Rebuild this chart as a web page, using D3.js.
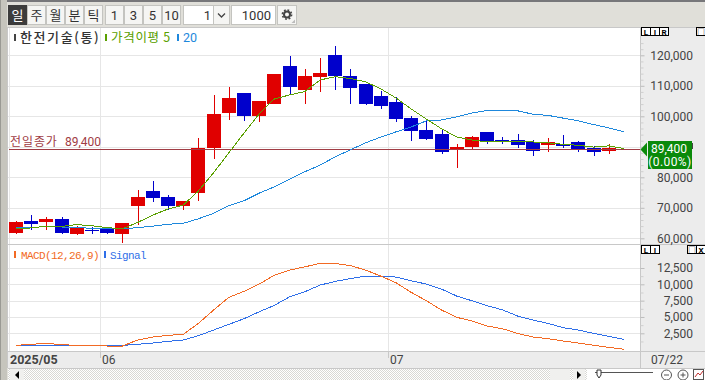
<!DOCTYPE html>
<html>
<head>
<meta charset="utf-8">
<script src="https://cdn.jsdelivr.net/npm/d3@7"></script>
<style>
  html, body { margin: 0; padding: 0; background: #e0dfd9; overflow: hidden; }
  svg { display: block; }
  text { font-family: Roboto, "Noto Sans CJK KR", sans-serif; }
  .kr { font-family: "Noto Sans CJK KR", sans-serif; }
  .mono { font-family: "Liberation Mono", monospace; letter-spacing: -0.6px; }
  .crisp { shape-rendering: crispEdges; }
</style>
</head>
<body>
<svg id="chart" width="705" height="380"></svg>
<script>
// trading days shown on the chart
const dates = ['05/23','05/26','05/27','05/28','05/29','05/30','06/02','06/04','06/05','06/09','06/10','06/11','06/12','06/13',
  '06/16','06/17','06/18','06/19','06/20','06/23','06/24','06/25','06/26','06/27','06/30','07/01','07/02','07/03','07/04',
  '07/07','07/08','07/09','07/10','07/11','07/14','07/15','07/16','07/17','07/18','07/21','07/22'];
const opens = [61700,65700,65300,66300,61400,62700,63100,61400,70600,75500,73500,70600,74900,89600,101100,107700,100100,104100,
  116500,108600,112900,120100,113200,110600,106700,104700,99500,95500,94200,89300,89900,94900,92200,92200,91600,90600,90900,91600,89600,88600,89400];
const closes = [65300,64700,66300,61700,63400,62400,61700,65000,73500,73200,70600,72200,89600,100800,106000,100100,105000,113900,
  109600,113200,114200,113200,109300,104100,103400,99100,95200,92600,88300,89900,93200,91900,91900,90600,88600,91600,90300,89300,88300,89600,89400];
const highs = [65700,67600,67000,67000,64000,63700,63700,65000,75800,78800,74200,72200,92900,107000,109600,107700,105000,113900,
  119800,115500,119100,123100,115500,110600,108300,106300,100100,98500,95500,90900,93600,94900,93200,94200,92200,92900,93900,91900,90300,90900,89400];
const lows = [61400,62700,62700,61400,61100,61400,61400,58500,64400,71900,69300,69300,72200,86000,98800,98500,98100,104100,
  107000,104100,108000,108600,104100,103700,102400,98100,91900,92200,87700,83100,89300,90900,90900,89600,87000,88300,89600,88300,87000,87700,89400];
const ma5 = [63100,63400,64000,63900,64500,64100,63500,63100,65200,67600,69600,70900,75500,81500,88000,94500,100800,105700,
  107000,108100,111900,113000,112400,111300,109000,106000,102400,99100,95900,93200,92200,91600,91600,91900,91600,91300,90800,90500,89900,90300,89400];
const ma20 = [63500,63600,63800,63700,63500,63300,63200,63100,63500,64000,64600,64900,66400,68200,70700,72300,74800,76900,
  79400,81800,84000,86700,89000,91300,93200,94900,96500,98500,98800,99800,101100,101900,101900,101800,100700,100300,99400,98500,97300,96200,94900];
const macd = [660,810,960,750,660,660,550,550,1470,1930,2190,2340,4020,6060,8000,8920,10040,11410,12180,12680,13200,13200,12870,
  12180,11260,10240,8770,7480,6060,4940,4380,3610,3200,2490,1930,1670,1320,1010,660,350,50];
const signal = [660,660,680,680,660,660,650,640,810,1010,1270,1470,2130,3000,3870,4730,5800,6780,8090,8860,9880,10450,10880,
  11260,11260,11110,10540,10040,9270,8200,7480,6720,6100,5140,4530,4020,3350,3000,2490,2030,1580];

const priceTicks = [60000,70000,80000,90000,100000,110000,120000];
const priceMinor = d3.range(58000, 126000, 2000);
const macdTicks = [2500,5000,7500,10000,12500];
const macdMinor = [1250,3750,6250,8750,11250];
const prevClose = 89400;
const periodButtons = ['일','주','월','분','틱'];
const stepButtons = ['1','3','5','10'];

const red = '#e00000', blue = '#0000cc', gridColor = '#e6e6e6', axisBg = '#ececec', lineGray = '#c8c8c8';
const svg = d3.select('#chart');

const plotLeft = 8, plotRight = 640, priceTop = 28, priceBottom = 244, macdBottom = 351;

const x = d3.scalePoint().domain(dates).range([16, 624]);
const yPrice = d3.scaleLinear().domain([60000, 120000]).range([238.3, 55.3]);
const yMacd = d3.scaleLinear().domain([2500, 12500]).range([333.3, 268]);

// frame
svg.append('rect').attr('width', 705).attr('height', 380).attr('fill', '#e0dfd9');
svg.append('rect').attr('width', 705).attr('height', 2).attr('fill', '#77777a');
svg.append('rect').attr('x', 0).attr('y', 0).attr('width', 7).attr('height', 380).attr('fill', '#c6c5bd');
svg.append('rect').attr('x', 0).attr('y', 0).attr('width', 1).attr('height', 380).attr('fill', '#9a9a94');
svg.append('rect').attr('x', 7).attr('y', 27).attr('width', 698).attr('height', 341).attr('fill', axisBg);
svg.append('rect').attr('x', plotLeft).attr('y', priceTop).attr('width', plotRight - plotLeft)
  .attr('height', macdBottom - priceTop).attr('fill', '#fff');

// toolbar
function button(bx, bw, label, selected, cls) {
  svg.append('rect').attr('class', 'crisp').attr('x', bx + 0.5).attr('y', 5.5).attr('width', bw - 1).attr('height', 19)
    .attr('fill', selected ? '#3c3c3c' : '#f5f5f3').attr('stroke', selected ? '#3c3c3c' : '#c4c4c0');
  svg.append('text').attr('class', cls).attr('x', bx + bw / 2).attr('y', 20).attr('text-anchor', 'middle')
    .attr('font-size', 13).attr('fill', selected ? '#fff' : '#333').text(label);
}
periodButtons.forEach((d, i) => button(8 + i * 19, 19, d, i === 0, 'kr'));
stepButtons.forEach((d, i) => button(105 + i * 19, 19, d, false, ''));

svg.append('rect').attr('class', 'crisp').attr('x', 183.5).attr('y', 5.5).attr('width', 46).attr('height', 19)
  .attr('fill', '#fff').attr('stroke', '#c4c4c0');
svg.append('rect').attr('class', 'crisp').attr('x', 213.5).attr('y', 5.5).attr('width', 16).attr('height', 19)
  .attr('fill', '#f5f5f3').attr('stroke', '#c4c4c0');
svg.append('path').attr('d', 'M218 13.5 L221.5 17 L225 13.5').attr('fill', 'none').attr('stroke', '#444').attr('stroke-width', 1.3);
svg.append('text').attr('x', 211).attr('y', 20).attr('text-anchor', 'end').attr('font-size', 13).attr('fill', '#333').text('1');
svg.append('rect').attr('class', 'crisp').attr('x', 231.5).attr('y', 5.5).attr('width', 44).attr('height', 19)
  .attr('fill', '#fff').attr('stroke', '#c4c4c0');
svg.append('text').attr('x', 271).attr('y', 20).attr('text-anchor', 'end').attr('font-size', 13).attr('fill', '#333').text('1000');
svg.append('rect').attr('class', 'crisp').attr('x', 277.5).attr('y', 5.5).attr('width', 19).attr('height', 19)
  .attr('fill', '#f5f5f3').attr('stroke', '#c4c4c0');
// gear icon
svg.append('circle').attr('cx', 287).attr('cy', 14.5).attr('r', 3).attr('fill', 'none').attr('stroke', '#444').attr('stroke-width', 2);
svg.append('circle').attr('cx', 287).attr('cy', 14.5).attr('r', 4.6).attr('fill', 'none').attr('stroke', '#444').attr('stroke-width', 1.6)
  .attr('stroke-dasharray', '1.8 1.8');
svg.append('path').attr('d', 'M295 23 V19.5 L291.5 23 Z').attr('fill', '#bbb');

// grid
const grid = svg.append('g').attr('class', 'crisp').attr('stroke', gridColor);
grid.selectAll('.hp').data(priceTicks).join('line').attr('x1', plotLeft).attr('x2', plotRight)
  .attr('y1', d => Math.round(yPrice(d)) + 0.5).attr('y2', d => Math.round(yPrice(d)) + 0.5);
grid.selectAll('.hm').data(macdTicks, d => d).join('line').attr('x1', plotLeft).attr('x2', plotRight)
  .attr('y1', d => Math.round(yMacd(d)) + 0.5).attr('y2', d => Math.round(yMacd(d)) + 0.5);
// month boundaries sit half a step left of the first trading day
const monthStarts = ['06/02', '07/01'];
const monthX = d => Math.round(x(d) - x.step() / 2) + 0.5;
grid.selectAll('.v').data(monthStarts, d => d).join('line').attr('x1', monthX).attr('x2', monthX).attr('y1', priceTop).attr('y2', macdBottom);
grid.append('line').attr('x1', 9.5).attr('x2', 9.5).attr('y1', priceTop).attr('y2', macdBottom);

// candles
const candles = svg.append('g').attr('class', 'crisp');
candles.selectAll('rect.wick').data(dates).join('rect').attr('class', 'wick')
  .attr('x', d => Math.round(x(d)))
  .attr('width', 1)
  .attr('y', (d, i) => Math.round(yPrice(highs[i])))
  .attr('height', (d, i) => Math.max(1, Math.round(yPrice(lows[i])) - Math.round(yPrice(highs[i]))))
  .attr('fill', (d, i) => closes[i] >= opens[i] ? red : blue);
candles.selectAll('rect.body').data(dates).join('rect').attr('class', 'body')
  .attr('x', d => Math.round(x(d)) - 7)
  .attr('width', 14)
  .attr('y', (d, i) => Math.round(yPrice(Math.max(opens[i], closes[i]))))
  .attr('height', (d, i) => Math.max(1, Math.round(yPrice(Math.min(opens[i], closes[i]))) - Math.round(yPrice(Math.max(opens[i], closes[i])))))
  .attr('fill', (d, i) => closes[i] >= opens[i] ? red : blue);

// previous close
const prevY = Math.round(yPrice(prevClose)) + 0.5;
svg.append('line').attr('class', 'crisp').attr('x1', plotLeft + 1).attr('x2', plotRight).attr('y1', prevY).attr('y2', prevY)
  .attr('stroke', '#a03c44');
svg.append('text').attr('class', 'kr').attr('x', 10).attr('y', 146).attr('font-size', 12).attr('letter-spacing', 0.9).attr('fill', '#a03c44').text('전일종가');
svg.append('text').attr('x', 65).attr('y', 146).attr('font-size', 12).attr('fill', '#a03c44').text('89,400');

// lines
function drawLine(values, yScale, color) {
  const line = d3.line().x((d, i) => x(dates[i])).y(d => yScale(d));
  svg.append('path').attr('class', 'crisp').attr('d', line(values)).attr('fill', 'none').attr('stroke', color).attr('stroke-width', 1);
}
drawLine(ma20, yPrice, '#1e88dc');
drawLine(ma5, yPrice, '#5aa000');
drawLine(signal, yMacd, '#2f6fe8');
drawLine(macd, yMacd, '#f26a24');

// separators
const seps = svg.append('g').attr('class', 'crisp').attr('stroke', lineGray);
[[plotLeft, 705, 244.5, 244.5], [plotLeft, 705, 351.5, 351.5], [plotLeft, 705, 368.5, 368.5], [plotLeft, 705, 27.5, 27.5],
 [640.5, 640.5, 27, 368], [7.5, 7.5, 27, 368]].forEach(s => {
  seps.append('line').attr('x1', s[0]).attr('x2', s[1]).attr('y1', s[2]).attr('y2', s[3]);
});

// right axes
function rightAxis(scale, ticks, minor, fmt) {
  const major = svg.append('g').attr('transform', 'translate(640.5,0)')
    .call(d3.axisRight(scale).tickValues(ticks).tickSize(4).tickFormat(fmt));
  major.select('.domain').remove();
  major.selectAll('line').attr('stroke', '#bdbdbd');
  major.selectAll('text').attr('x', 52.5).attr('text-anchor', 'end').attr('font-size', 12)
    .attr('font-family', 'Roboto').attr('fill', '#444');
  const small = svg.append('g').attr('transform', 'translate(640.5,0)')
    .call(d3.axisRight(scale).tickValues(minor).tickSize(3).tickFormat(''));
  small.select('.domain').remove();
  small.selectAll('line').attr('stroke', '#cfcfcf');
}
// the 90,000 label is hidden behind the current price tag
rightAxis(yPrice, priceTicks, priceMinor.filter(d => !priceTicks.includes(d) && yPrice(d) > 30 && yPrice(d) < 243),
  d => d === 90000 ? '' : d3.format(',')(d));
rightAxis(yMacd, macdTicks, macdMinor, d3.format(','));

// current price tag
svg.append('rect').attr('x', 692).attr('y', 143).attr('width', 1).attr('height', 6).attr('fill', '#444');
svg.append('path').attr('d', `M640.5 ${prevY} L647 ${prevY - 7} L647 ${prevY + 7} Z`).attr('fill', '#0a8a0a');
svg.append('rect').attr('x', 648).attr('y', 141).attr('width', 44).attr('height', 28).attr('fill', '#0a8a0a');
svg.append('text').attr('x', 669).attr('y', 153).attr('text-anchor', 'middle').attr('font-size', 12).attr('fill', '#fff').text('89,400');
svg.append('text').attr('x', 670).attr('y', 166).attr('text-anchor', 'middle').attr('font-size', 12).attr('letter-spacing', 0.4).attr('fill', '#fff').text('(0.00%)');

// little L I R boxes
function boxes(bx, by, labels, w) {
  labels.forEach((d, i) => {
    svg.append('rect').attr('class', 'crisp').attr('x', bx + i * w + 0.5).attr('y', by + 0.5).attr('width', w).attr('height', 8)
      .attr('fill', '#fff').attr('stroke', '#000');
    svg.append('text').attr('x', bx + i * w + w / 2 + 0.5).attr('y', by + 7.5).attr('text-anchor', 'middle')
      .attr('font-size', 8).attr('font-weight', 700).attr('fill', '#000').text(d);
  });
}
boxes(641, 27, ['L', 'I', 'R'], 9);
boxes(696, 27, ['□'], 9);
boxes(641, 245, ['L', 'I'], 9);
boxes(687, 245, ['□', 'X'], 9);

// legends
function marker(mx, my, color) {
  svg.append('rect').attr('x', mx).attr('y', my).attr('width', 2).attr('height', 7).attr('fill', color);
}
marker(14, 34, '#444');
svg.append('text').attr('class', 'kr').attr('x', 20).attr('y', 42).attr('font-size', 13).attr('font-weight', 500).attr('letter-spacing', 1.6).attr('fill', '#333').text('한전기술(통)');
marker(105, 34, '#5aa000');
svg.append('text').attr('class', 'kr').attr('x', 111).attr('y', 42).attr('font-size', 12.5).attr('letter-spacing', 0.7).attr('fill', '#5aa000').text('가격이평 5');
marker(177, 34, '#1e88dc');
svg.append('text').attr('x', 183).attr('y', 42).attr('font-size', 12.5).attr('fill', '#1e88dc').text('20');
marker(14, 251, '#f26a24');
svg.append('text').attr('class', 'mono').attr('x', 21).attr('y', 259).attr('font-size', 11).attr('fill', '#f26a24').text('MACD(12,26,9)');
marker(104, 251, '#2f6fe8');
svg.append('text').attr('class', 'mono').attr('x', 110).attr('y', 259).attr('font-size', 11).attr('fill', '#2f6fe8').text('Signal');

// x axis labels
svg.append('text').attr('x', 10).attr('y', 364).attr('font-size', 12.5).attr('font-weight', 700).attr('fill', '#444').text('2025/05');
svg.append('text').attr('x', monthX('06/02') + 1.5).attr('y', 364).attr('font-size', 12).attr('fill', '#444').text('06');
svg.append('text').attr('x', monthX('07/01') + 1.5).attr('y', 364).attr('font-size', 12).attr('fill', '#444').text('07');
svg.append('text').attr('x', 651).attr('y', 364).attr('font-size', 12).attr('fill', '#444').text('07/22');
svg.selectAll('.mt').data(monthStarts).join('line').attr('class', 'crisp').attr('x1', monthX).attr('x2', monthX)
  .attr('y1', 352).attr('y2', 358).attr('stroke', lineGray);

// scroll bar
const defs = svg.append('defs');
const dither = defs.append('pattern').attr('id', 'dither').attr('width', 2).attr('height', 2).attr('patternUnits', 'userSpaceOnUse');
dither.append('rect').attr('width', 2).attr('height', 2).attr('fill', '#fff');
dither.append('rect').attr('width', 1).attr('height', 1).attr('fill', '#d8d8d4');
dither.append('rect').attr('x', 1).attr('y', 1).attr('width', 1).attr('height', 1).attr('fill', '#d8d8d4');
svg.append('rect').attr('x', 8).attr('y', 369).attr('width', 697).attr('height', 11).attr('fill', 'url(#dither)');
svg.append('rect').attr('x', 10).attr('y', 369).attr('width', 14).attr('height', 11).attr('fill', '#f0f0ee');
svg.append('path').attr('d', 'M19 371 L15 375 L19 379 Z').attr('fill', '#000');
svg.append('rect').attr('x', 550).attr('y', 369).attr('width', 20).attr('height', 11).attr('fill', '#f0f0ee');
svg.append('rect').attr('x', 573).attr('y', 369).attr('width', 12).attr('height', 11).attr('fill', '#f0f0ee');
svg.append('path').attr('d', 'M577 371 L581 375 L577 379 Z').attr('fill', '#000');
svg.append('rect').attr('x', 587).attr('y', 369).attr('width', 118).attr('height', 11).attr('fill', '#fff');
svg.append('line').attr('class', 'crisp').attr('x1', 595).attr('x2', 653).attr('y1', 372.5).attr('y2', 372.5).attr('stroke', '#555');
svg.append('path').attr('d', 'M597 370 H601 V375 L599 378 L597 375 Z').attr('fill', '#fff').attr('stroke', '#333');
svg.append('circle').attr('cx', 666.5).attr('cy', 375).attr('r', 5).attr('fill', '#fff').attr('stroke', '#555');
svg.append('line').attr('x1', 664).attr('x2', 669).attr('y1', 375).attr('y2', 375).attr('stroke', '#555');
svg.append('circle').attr('cx', 683).attr('cy', 375).attr('r', 5).attr('fill', '#fff').attr('stroke', '#555');
svg.append('path').attr('d', 'M680.5 375 H685.5 M683 372.5 V377.5').attr('stroke', '#555');
svg.append('rect').attr('class', 'crisp').attr('x', 693.5).attr('y', 369.5).attr('width', 10).attr('height', 10).attr('fill', '#fff').attr('stroke', '#555');
svg.append('path').attr('d', 'M695 377 L698 373 L700 375 L703 371').attr('fill', 'none').attr('stroke', '#c03030');
</script>
</body>
</html>
